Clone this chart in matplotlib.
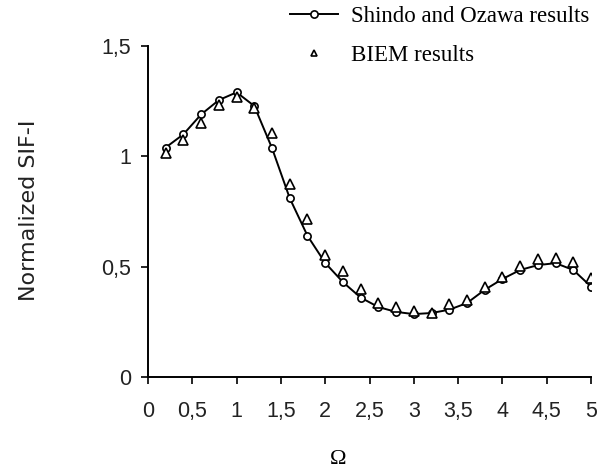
import numpy as np
import matplotlib
matplotlib.use("Agg")
import matplotlib.pyplot as plt
from matplotlib.ticker import FuncFormatter

# frequency values (both series share the same grid)
omega = [0.2, 0.4, 0.6, 0.8, 1.0, 1.2, 1.4, 1.6, 1.8, 2.0, 2.2, 2.4, 2.6,
         2.8, 3.0, 3.2, 3.4, 3.6, 3.8, 4.0, 4.2, 4.4, 4.6, 4.8, 5.0]

# Shindo and Ozawa results (circles + line)
shindo = [1.04, 1.10, 1.19, 1.255, 1.29, 1.228, 1.037, 0.81, 0.64, 0.517,
          0.43, 0.36, 0.317, 0.295, 0.285, 0.29, 0.305, 0.335, 0.395, 0.444,
          0.485, 0.507, 0.516, 0.485, 0.41]

# BIEM results (triangles)
biem = [1.016, 1.075, 1.15, 1.232, 1.27, 1.22, 1.107, 0.875, 0.716, 0.553,
        0.48, 0.40, 0.337, 0.317, 0.30, 0.29, 0.33, 0.35, 0.41, 0.455,
        0.503, 0.534, 0.54, 0.52, 0.448]

xticks = [0, 0.5, 1, 1.5, 2, 2.5, 3, 3.5, 4, 4.5, 5]
yticks = [0, 0.5, 1, 1.5]

sans = "Liberation Sans"
serif = "Liberation Serif"

fig = plt.figure(figsize=(6.05, 4.71), dpi=100)
ax = fig.add_axes([148 / 605, 1 - 377 / 471, 443 / 605, 331 / 471])

ax.plot(omega, shindo, color="black", lw=1.4, marker="o", ms=5.2,
        mfc="white", mec="black", mew=1.2, zorder=3,
        label="Shindo and Ozawa results")
ax.plot(omega, biem, ls="none", marker="^", ms=7, mfc="white", mec="black",
        mew=1.2, zorder=4, label="BIEM results")

ax.set_xlim(0, 5)
ax.set_ylim(0, 1.5)
ax.set_xticks(xticks)
ax.set_yticks(yticks)


def comma(v, pos):
    return ("%g" % v).replace(".", ",")


ax.xaxis.set_major_formatter(FuncFormatter(comma))
ax.yaxis.set_major_formatter(FuncFormatter(comma))

for side in ["top", "right"]:
    ax.spines[side].set_visible(False)
for side in ["left", "bottom"]:
    ax.spines[side].set_linewidth(1.4)
ax.tick_params(direction="out", length=5, width=1.2, labelsize=15.5,
               colors="black", labelcolor="#222222")
ax.tick_params(axis="y", pad=7)
ax.tick_params(axis="x", pad=12)
for lab in ax.get_xticklabels() + ax.get_yticklabels():
    lab.set_fontfamily(sans)

fig.text(29 / 605, 1 - 210 / 471, "Normalized SIF-I", rotation=90,
         ha="center", va="center", fontsize=16, family="DejaVu Sans",
         color="#222222")
fig.text(338 / 605, 1 - 460 / 471, "\u03a9", ha="center", va="center",
         fontsize=16, family=serif)

leg = ax.legend(loc="upper left", bbox_to_anchor=(290 / 605, 1 - 6 / 471),
                bbox_transform=fig.transFigure, frameon=False,
                prop={"family": serif, "size": 16.5}, handlelength=2.1,
                handletextpad=0.55, labelspacing=0.8, borderaxespad=0,
                borderpad=0)
leg.legend_handles[1].set_markersize(5)

fig.savefig("out.png", dpi=100)
